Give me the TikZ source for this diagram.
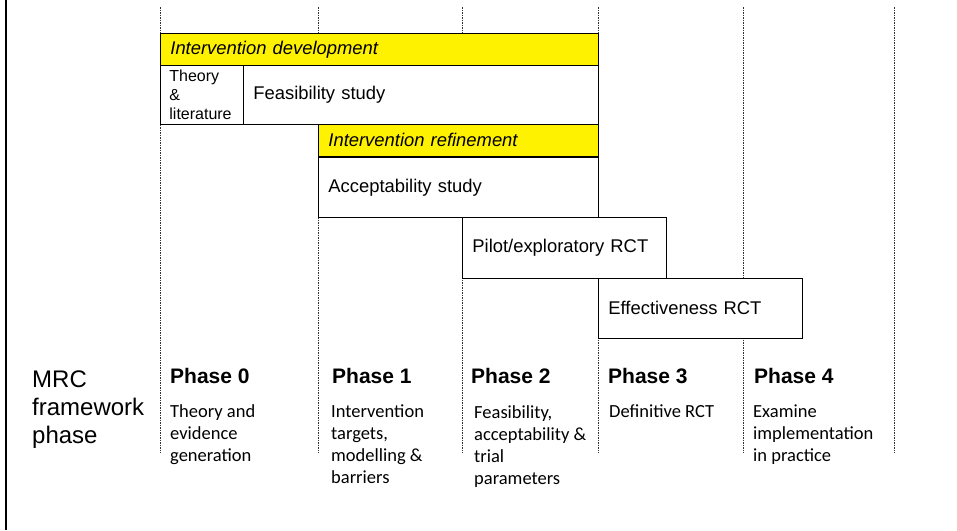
\documentclass[tikz,border=0pt]{standalone}
\usepackage{fontspec}
\setmainfont{Liberation Sans}
\newfontfamily\calibri{Carlito}

\begin{document}
\begin{tikzpicture}[x=1pt, y=-1pt,
    box/.style={draw=black, line width=0.8pt, fill=white, anchor=north west, inner xsep=10pt, inner ysep=0pt, align=left, font=\fontsize{18.4}{22}\selectfont},
    grid/.style={dash pattern=on 1.5pt off 1pt, line width=0.7pt, black!80},
    phase/.style={anchor=base west, inner sep=0pt, font=\fontsize{21}{25}\selectfont\bfseries},
    desc/.style={anchor=base west, inner sep=0pt, align=left, font=\calibri\fontsize{18.5}{22.3}\selectfont}]
    \useasboundingbox (0,0) rectangle (957,530);
    \draw[line width=2.3pt] (6,0) -- (6,530);
    \foreach \x in {160,318,462,598,743,894}
        \draw[grid] (\x,7) -- (\x,453);

    \node[box, fill=yellow, text width=418pt, minimum height=32pt] (dev) at (160,33) {\textit{Intervention development}};
    \node[box, inner xsep=9pt, text width=65pt, minimum height=59pt, font=\fontsize{16}{19}\selectfont] (theory) at (160,65) {Theory\\\&\\literature};
    \node[box, text width=335pt, minimum height=59pt] (feas) at (243,65) {Feasibility study};
    \node[box, fill=yellow, text width=260pt, minimum height=32pt] (refine) at (318,124) {\textit{Intervention refinement}};
    \node[box, text width=260pt, minimum height=60pt] (accept) at (318,157) {Acceptability study};
    \node[box, text width=184pt, minimum height=61pt] (pilot) at (462,217) {Pilot/exploratory RCT};
    \node[box, text width=184pt, minimum height=60pt] (effect) at (598,278) {Effectiveness RCT};

    % multi-line nodes sit on the baseline of their last line
    \node[anchor=base west, inner sep=0pt, align=left, font=\fontsize{24}{28}\selectfont] (mrc) at (32,443) {MRC\\framework\\phase};

    \node[phase] (p0) at (170,383) {Phase 0};
    \node[phase] (p1) at (332,383) {Phase 1};
    \node[phase] (p2) at (471,383) {Phase 2};
    \node[phase] (p3) at (608,383) {Phase 3};
    \node[phase] (p4) at (754,383) {Phase 4};

    \node[desc] (d0) at (170,461.6) {Theory and\\evidence\\generation};
    \node[desc] (d1) at (331,483.9) {Intervention\\targets,\\modelling \&\\barriers};
    \node[desc] (d2) at (474,484.9) {Feasibility,\\acceptability \&\\trial\\parameters};
    \node[desc] (d3) at (609,417) {Definitive RCT};
    \node[desc] (d4) at (753,461.6) {Examine\\implementation\\in practice};
\end{tikzpicture}
\end{document}
